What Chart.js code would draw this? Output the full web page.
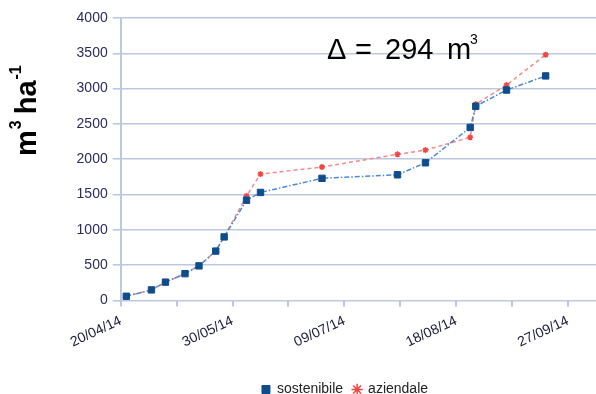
<!DOCTYPE html>
<html>
<head>
<meta charset="utf-8">
<script src="https://cdn.jsdelivr.net/npm/chart.js@4.4.1/dist/chart.umd.min.js"></script>
<style>
  html, body { margin: 0; padding: 0; background: #fff; }
  #wrap { width: 596px; height: 394px; }
</style>
</head>
<body>
<div id="wrap"><canvas id="myChart" width="596" height="394"></canvas></div>
<script>
// dates of the readings (dd/mm/yy)
const dates = ['22/04/14', '01/05/14', '06/05/14', '13/05/14', '18/05/14', '24/05/14', '27/05/14', '04/06/14',
	'09/06/14', '01/07/14', '28/07/14', '07/08/14', '23/08/14', '25/08/14', '05/09/14', '19/09/14'];

// cumulated volumes, m3 ha-1
const sostenibile = [60, 150, 260, 380, 490, 700, 900, 1420, 1530, 1730, 1780, 1950, 2450, 2750, 2980, 3180];
const aziendale = [60, 150, 260, 380, 490, 700, 900, 1480, 1790, 1890, 2070, 2130, 2310, 2780, 3050, 3480];

const startDate = '20/04/14';   // first x tick
const tickDays = 20;            // minor ticks every 20 days, labels every 40
const yMax = 4000;
const yStep = 500;

const seriesNames = ['sostenibile', 'aziendale'];
const deltaText = '294';

const font = "'Liberation Sans', Arial, sans-serif";

function parseDate(s) {
	const p = s.split('/');
	return Date.UTC(2000 + Number(p[2]), Number(p[1]) - 1, Number(p[0]));
}
const t0 = parseDate(startDate);
function toDay(s) {
	return (parseDate(s) - t0) / 86400000;
}
function dayLabel(d) {
	const dt = new Date(t0 + d * 86400000);
	const dd = String(dt.getUTCDate()).padStart(2, '0');
	const mm = String(dt.getUTCMonth() + 1).padStart(2, '0');
	const yy = String(dt.getUTCFullYear()).slice(2);
	return dd + '/' + mm + '/' + yy;
}

const days = dates.map(toDay);
const blueData = days.map((d, i) => ({ x: d, y: sostenibile[i] }));
const redData = days.map((d, i) => ({ x: d, y: aziendale[i] }));

// y title and delta note, drawn on top of the chart
const textPlugin = {
	id: 'texts',
	afterLayout(chart) {
		// legend sits a bit left of the plot centre in the original
		const lg = chart.legend;
		lg.left = 94;
		lg.right = 596;
		lg.width = 502;
	},
	afterDraw(chart) {
		const ctx = chart.ctx;
		ctx.save();
		ctx.fillStyle = '#000';
		ctx.textBaseline = 'alphabetic';

		// y axis title: m3 ha-1
		ctx.translate(36, 156);
		ctx.rotate(-Math.PI / 2);
		let x = 0;
		ctx.font = 'bold 29px ' + font;
		ctx.fillText('m', x, 0);
		x += ctx.measureText('m').width + 1;
		ctx.font = 'bold 16px ' + font;
		ctx.fillText('3', x, -15);
		x += ctx.measureText('3').width + 6;
		ctx.font = 'bold 29px ' + font;
		ctx.fillText('ha', x, 0);
		x += ctx.measureText('ha').width + 1;
		ctx.font = 'bold 16px ' + font;
		ctx.fillText('-1', x, -15);
		ctx.restore();

		// delta
		ctx.save();
		ctx.fillStyle = '#000';
		ctx.font = '29px ' + font;
		ctx.fillText('\u0394', 327, 51);
		ctx.fillText('=', 355, 51);
		ctx.fillText(deltaText, 385, 51);
		ctx.fillText('m', 447, 51);
		ctx.font = '14px ' + font;
		ctx.fillText('3', 470, 40);
		ctx.restore();
	}
};

const gridColor = '#bcc8e0';

const ctx = document.getElementById('myChart');
const myChart = new Chart(ctx, {
	type: 'scatter',
	data: {
		datasets: [{
			label: seriesNames[0],
			data: blueData,
			showLine: true,
			borderColor: '#4d8ad3',
			borderWidth: 1.5,
			borderDash: [5, 2, 1.5, 2],
			pointStyle: 'rect',
			pointRadius: 4.5,
			pointHoverRadius: 4.5,
			pointBorderWidth: 1,
			pointBackgroundColor: '#0f4c8c',
			pointBorderColor: '#0f4c8c',
			backgroundColor: '#0f4c8c'
		}, {
			label: seriesNames[1],
			data: redData,
			showLine: true,
			borderColor: '#f28b8b',
			borderWidth: 1.5,
			borderDash: [4, 3],
			pointStyle: 'star',
			pointRadius: 3,
			pointHoverRadius: 3,
			pointBorderWidth: 1.5,
			pointBackgroundColor: '#f04646',
			pointBorderColor: '#f04646',
			backgroundColor: '#f04646'
		}]
	},
	options: {
		responsive: false,
		animation: false,
		layout: {
			autoPadding: false,
			padding: { left: 0, right: 0, top: 18, bottom: 0 }
		},
		plugins: {
			tooltip: { enabled: false },
			legend: {
				position: 'bottom',
				maxHeight: 21.5,
				labels: {
					usePointStyle: true,
					boxWidth: 8,
					boxHeight: 8,
					padding: 10,
					color: '#222',
					font: { family: font, size: 14 }
				}
			}
		},
		scales: {
			x: {
				type: 'linear',
				min: 0,
				max: 170,
				afterFit: (s) => {
					s.height = 72;
					s.paddingLeft = 0;
					s.paddingRight = 0;
				},
				grid: {
					drawOnChartArea: false,
					color: gridColor,
					lineWidth: 2,
					tickLength: 6
				},
				border: { display: false },
				ticks: {
					stepSize: tickDays,
					includeBounds: false,
					autoSkip: false,
					maxRotation: 25,
					minRotation: 25,
					padding: 6,
					color: '#1a1a3a',
					font: { family: font, size: 14 },
					callback: (v) => (v % 40 === 0 ? dayLabel(v) : '')
				}
			},
			y: {
				min: 0,
				max: yMax,
				afterFit: (s) => { s.width = 120.7; },
				grid: {
					color: gridColor,
					lineWidth: 1.6,
					tickLength: 8
				},
				border: { color: gridColor, width: 2 },
				ticks: {
					stepSize: yStep,
					padding: 5,
					color: '#2c2c5c',
					font: { family: font, size: 14 },
					callback: (v) => String(v)
				}
			}
		}
	},
	plugins: [textPlugin]
});
</script>
</body>
</html>
